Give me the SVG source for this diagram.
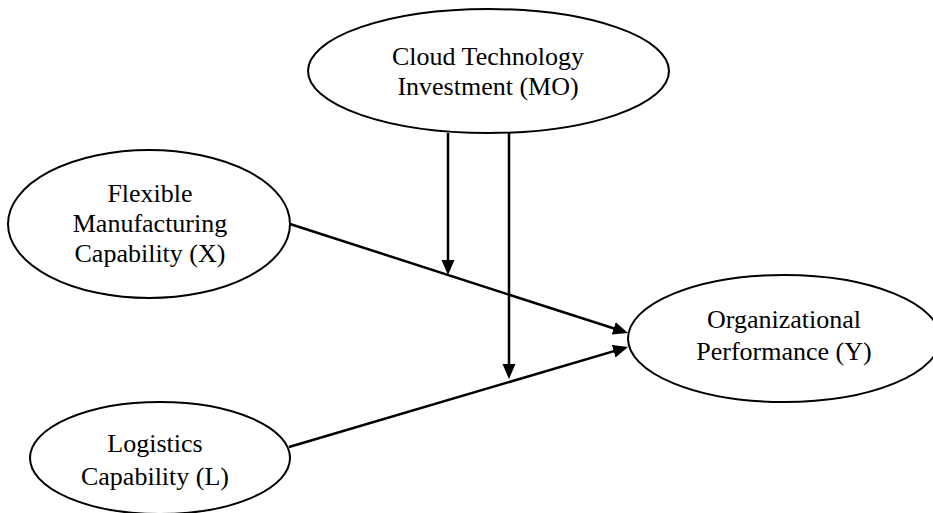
<svg xmlns="http://www.w3.org/2000/svg" width="933" height="513" viewBox="0 0 933 513">
  <style>
    .node ellipse { fill: #ffffff; stroke: #000000; stroke-width: 2; }
    .node text { font-family: "Liberation Serif", "Times New Roman", serif; font-size: 26px; fill: #000000; text-anchor: middle; }
    .edge { fill: none; stroke: #000000; stroke-width: 2.5; marker-end: url(#arrow); }
  </style>
  <defs>
    <marker id="arrow" markerUnits="userSpaceOnUse" markerWidth="16" markerHeight="14" refX="11" refY="6.5" orient="auto">
      <path d="M0,0 L15,6.5 L0,13 Z" fill="#000000"/>
    </marker>
  </defs>
  <rect width="933" height="513" fill="#ffffff"/>

  <g id="node-cloud" class="node">
    <ellipse cx="488.5" cy="71" rx="180.5" ry="62"/>
    <text x="488" y="65">Cloud Technology</text>
    <text x="488" y="95">Investment (MO)</text>
  </g>

  <g id="node-flexible" class="node">
    <ellipse cx="149" cy="224" rx="141" ry="74"/>
    <text x="150" y="202">Flexible</text>
    <text x="150" y="232">Manufacturing</text>
    <text x="150" y="262">Capability (X)</text>
  </g>

  <g id="node-performance" class="node">
    <ellipse cx="784" cy="338.5" rx="156" ry="63.5"/>
    <text x="784" y="328">Organizational</text>
    <text x="784" y="360">Performance (Y)</text>
  </g>

  <g id="node-logistics" class="node">
    <ellipse cx="160" cy="458" rx="130" ry="56"/>
    <text x="155" y="452">Logistics</text>
    <text x="155" y="485">Capability (L)</text>
  </g>

  <g id="connectors">
    <path class="edge" d="M290,224 L624.2,331.8"/>
    <path class="edge" d="M289,447 L624.2,348.1"/>
    <path class="edge" d="M448,133 L448,271"/>
    <path class="edge" d="M509,133 L509,375"/>
  </g>
</svg>
